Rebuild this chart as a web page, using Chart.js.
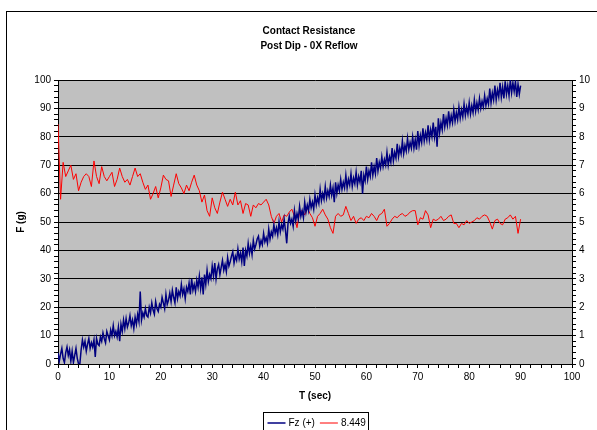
<!DOCTYPE html>
<html>
<head>
<meta charset="utf-8">
<script src="https://cdn.jsdelivr.net/npm/chart.js@4.4.1/dist/chart.umd.min.js"></script>
<style>
    html, body { margin: 0; padding: 0; background: #fff; overflow: hidden; }
    #frame { position: absolute; left: 6px; top: 11px; width: 700px; height: 500px; border: 1px solid #000; }
    #wrap { position: absolute; left: 0; top: 0; width: 597px; height: 430px; }
</style>
</head>
<body>
<div id="frame"></div>
<div id="wrap"><canvas id="chart"></canvas></div>
<script>
// Fz (+) in grams, one reading every 0.25 s from 0 to 90 s (4 per row-group = 1 s)
const forceFz = [
    4, 1, 3.5, 5.5,  2, 0.5, 4, 6,  3, 5, 1, 4.5,  0.5, 3, 5.5, 2,
    0, 0, 5, 8.5,  6, 8, 4.5, 7,  9, 5.5, 7.5, 6,  8.5, 2.5, 9, 7,
    6.5, 9.5, 8, 11,  9, 7.5, 11.5, 10,  8.5, 12, 10, 13.5,  10, 11.5, 9.5, 13,
    8, 14, 11.5, 15.5,  12.5, 16, 13, 14.5,  17, 13.5, 15.5, 12.5,  16.5, 14, 17.5, 15,
    25.5, 15.5, 18, 16.5,  19.5, 17, 16.5, 20,  18, 21.5, 19, 17.5,  22, 19.5, 18.5, 21,
    20, 23.5, 21.5, 19.5,  24.5, 21, 22.5, 25,  22, 26, 23.5, 21.5,  27, 23, 25.5, 24,
    28, 24.5, 26.5, 23,  27, 25.5, 28.5, 24.5,  30, 26, 28, 25.5,  29.5, 27, 31, 26.5,
    30.5, 24.5, 31.5, 28,  33, 29, 31.5, 30,  34.5, 31, 35.5, 30,  33.5, 35, 31.5, 34,
    36.5, 33, 35, 32.5,  37.5, 34.5, 36, 38,  39.5, 35.5, 38, 36.5,  40.5, 37, 39, 36,
    41, 34.5, 40, 38,  42.5, 39, 41.5, 38.5,  43.5, 40.5, 42, 44,  45, 41.5, 43.5, 42,
    46, 43, 44.5, 42.5,  47.5, 44, 46.5, 45,  49, 46, 48, 45.5,  50, 46.5, 49, 47.5,
    51, 47, 42.5, 49.5,  52, 49.5, 51, 48.5,  54, 50.5, 53, 51,  55.5, 52, 54, 51.5,
    57, 53.5, 56, 54,  58, 55, 57, 54.5,  59.5, 56, 58.5, 56.5,  61.5, 57.5, 60, 58,
    62.5, 58.5, 61, 59,  63, 59.5, 62, 57,  64, 60, 63, 61,  65, 61.5, 64, 62,
    66.5, 62, 65, 63,  67, 62.5, 65.5, 63.5,  67.5, 63, 66, 64,  68, 60, 66.5, 64.5,
    69.5, 65, 68, 66,  71, 66.5, 69.5, 67,  72.5, 68, 71, 69,  73, 69.5, 72, 70,
    74.5, 70, 73, 71,  76, 71.5, 74.5, 72.5,  77.5, 73, 76, 74,  78.5, 74, 77, 75,
    79.5, 75.5, 78, 76,  80, 76, 79, 75.5,  82, 77, 80.5, 78,  83, 78.5, 81.5, 79,
    84, 79, 82.5, 80,  85, 80, 83.5, 76.5,  86.5, 81.5, 85, 82.5,  88, 83.5, 86.5, 84,
    89, 84.5, 87.5, 85,  89.5, 85.5, 88.5, 86,  90.5, 86.5, 89.5, 87,  91.5, 87.5, 90.5, 88,
    92, 88, 91, 88.5,  93, 89, 92, 89.5,  93.5, 90, 92.5, 90.5,  94.5, 91, 93.5, 91.5,
    97, 92, 95.5, 93,  98, 93, 96.5, 94,  99, 94, 97.5, 93.5,  99.5, 95, 98, 94.5,
    100, 95.5, 99, 96,  99.5, 94, 98.5, 95,  98
];

// second series (right axis), one reading every 0.5 s
const resist = [
    8.449, 5.8, 7.1, 6.6,  6.8, 7.0, 6.5, 6.7,  6.1, 6.4, 6.6, 6.7,  6.6, 6.25, 7.15, 6.6,
    6.35, 6.95, 6.6, 6.45,  6.6, 6.75, 6.25, 6.5,  6.9, 6.6, 6.4, 6.5,  6.3, 6.6, 6.9, 6.6,
    6.7, 6.4, 6.15, 6.3,  5.8, 6.0, 6.25, 5.85,  6.2, 6.65, 6.5, 6.45,  5.9, 6.3, 6.7, 6.35,
    6.2, 6.0, 6.3, 6.1,  6.4, 6.65, 6.3, 6.1,  5.7, 5.95, 5.4, 5.2,  5.85, 5.5, 5.3, 5.7,
    6.05, 5.8, 5.55, 5.8,  5.6, 6.05, 5.6, 5.75,  5.3, 5.65, 5.6, 5.2,  5.6, 5.5, 5.65, 5.6,
    5.7, 5.8, 5.6, 5.2,  4.95, 5.2, 5.3, 5.0,  5.25, 5.2, 5.35, 5.45,  5.2, 4.8, 5.35, 5.4,
    5.25, 5.5, 5.3, 5.15,  4.85, 5.2, 5.3, 5.45,  5.25, 5.1, 4.8, 4.6,  5.2, 5.3, 5.2, 5.25,
    5.55, 5.3, 5.05, 5.2,  4.95, 5.1, 5.15, 5.05,  5.2, 5.15, 5.3, 5.2,  5.05, 5.25, 5.3, 5.45,
    4.85, 4.95, 5.1, 5.2,  5.15, 5.25, 5.3, 5.2,  5.25, 5.35, 5.4, 5.4,  4.9, 5.15, 5.1, 5.4,
    5.25, 4.8, 5.1, 5.05,  5.1, 5.2, 5.05, 5.1,  5.2, 5.25, 4.95, 4.95,  4.8, 4.95, 4.9, 5.05,
    4.95, 5.0, 5.05, 5.15,  5.1, 5.2, 5.25, 5.2,  5.0, 4.75, 5.05, 5.1,  4.95, 4.9, 5.1, 5.15,
    5.25, 5.1, 5.2, 4.6,  5.1
];

const forceStep = 0.25;  // s between Fz readings
const resistStep = 0.5;  // s between resistance readings
const titleLines = ['Contact Resistance', 'Post Dip - 0X Reflow'];
const seriesNames = ['Fz (+)', '8.449'];
const seriesColors = ['#000080', '#ff0000'];

const FONT = '"Liberation Sans", Arial, sans-serif';

function toPoints(values, step) {
    return values.map((v, i) => ({ x: i * step, y: v }));
}

const isMajor = (v, every) => Math.abs(v / every - Math.round(v / every)) < 1e-6;

// grey plot area, title and boxed legend like the Excel original
const excelLook = {
    id: 'excelLook',
    beforeDraw(chart) {
        const a = chart.chartArea;
        const ctx = chart.ctx;
        ctx.save();
        ctx.fillStyle = '#c0c0c0';
        ctx.fillRect(a.left, a.top, a.right - a.left, a.bottom - a.top);
        ctx.restore();
    },
    afterDraw(chart) {
        const a = chart.chartArea;
        const ctx = chart.ctx;
        const cx = (a.left + a.right) / 2;
        ctx.save();
        ctx.fillStyle = '#000';
        ctx.textAlign = 'center';
        ctx.textBaseline = 'middle';
        ctx.font = 'bold 10px ' + FONT;
        ctx.fillText(titleLines[0], cx - 6, 31);
        ctx.fillText(titleLines[1], cx - 6, 46);

        // legend
        const bx = 263.5, by = 412.5, bw = 105, bh = 20;
        ctx.strokeStyle = '#000';
        ctx.lineWidth = 1;
        ctx.strokeRect(bx, by, bw, bh);
        ctx.font = '10px ' + FONT;
        ctx.textAlign = 'left';
        const ly = 423;
        let x = bx + 4;
        seriesNames.forEach((name, i) => {
            ctx.strokeStyle = seriesColors[i];
            ctx.lineWidth = i === 0 ? 1.5 : 1;
            ctx.beginPath();
            ctx.moveTo(x, ly);
            ctx.lineTo(x + 18, ly);
            ctx.stroke();
            ctx.fillStyle = '#000';
            ctx.fillText(name, x + 21, ly);
            x += 21 + ctx.measureText(name).width + 5;
        });
        ctx.restore();
    }
};

const ctx = document.getElementById('chart').getContext('2d');
Chart.defaults.font.family = FONT;
Chart.defaults.font.size = 10;
Chart.defaults.color = '#000';

new Chart(ctx, {
    type: 'line',
    data: {
        datasets: [{
            label: seriesNames[0],
            data: toPoints(forceFz, forceStep),
            borderColor: seriesColors[0],
            borderWidth: 1.5,
            pointRadius: 0,
            tension: 0,
            fill: false,
            yAxisID: 'y'
        }, {
            label: seriesNames[1],
            data: toPoints(resist, resistStep),
            borderColor: seriesColors[1],
            borderWidth: 1,
            pointRadius: 0,
            tension: 0,
            fill: false,
            yAxisID: 'y2'
        }]
    },
    options: {
        responsive: true,
        maintainAspectRatio: false,
        animation: false,
        layout: { padding: { top: 80, left: 0, right: 0, bottom: 0 } },
        plugins: {
            legend: { display: false },
            title: { display: false },
            tooltip: { enabled: false }
        },
        scales: {
            x: {
                type: 'linear',
                min: 0,
                max: 100,
                afterFit: s => { s.height = 66; },
                ticks: {
                    stepSize: 2,
                    autoSkip: false,
                    maxRotation: 0,
                    padding: 3,
                    callback: v => isMajor(v, 10) ? String(v) : ''
                },
                grid: {
                    drawOnChartArea: false,
                    tickLength: 4,
                    tickColor: '#000'
                },
                border: { color: '#000', width: 1 },
                title: {
                    display: true,
                    text: 'T (sec)',
                    font: { weight: 'bold', size: 10 },
                    padding: { top: 0, bottom: 28 }
                }
            },
            y: {
                position: 'left',
                min: 0,
                max: 100,
                afterFit: s => { s.width = 58; },
                ticks: {
                    stepSize: 2,
                    autoSkip: false,
                    padding: 3,
                    callback: v => isMajor(v, 10) ? String(v) : ''
                },
                grid: {
                    color: c => (c.tick && isMajor(c.tick.value, 10)) ? '#000' : 'rgba(0,0,0,0)',
                    tickColor: '#000',
                    tickLength: 4
                },
                border: { color: '#000', width: 1 },
                title: {
                    display: true,
                    text: 'F (g)',
                    font: { weight: 'bold', size: 10 },
                    padding: { top: 15, bottom: 0 }
                }
            },
            y2: {
                position: 'right',
                min: 0,
                max: 10,
                afterFit: s => { s.width = 25; },
                ticks: {
                    stepSize: 0.2,
                    autoSkip: false,
                    padding: 3,
                    callback: v => isMajor(v, 1) ? String(Math.round(v)) : ''
                },
                grid: {
                    drawOnChartArea: false,
                    tickColor: '#000',
                    tickLength: 4
                },
                border: { color: '#000', width: 1 }
            }
        }
    },
    plugins: [excelLook]
});
</script>
</body>
</html>
